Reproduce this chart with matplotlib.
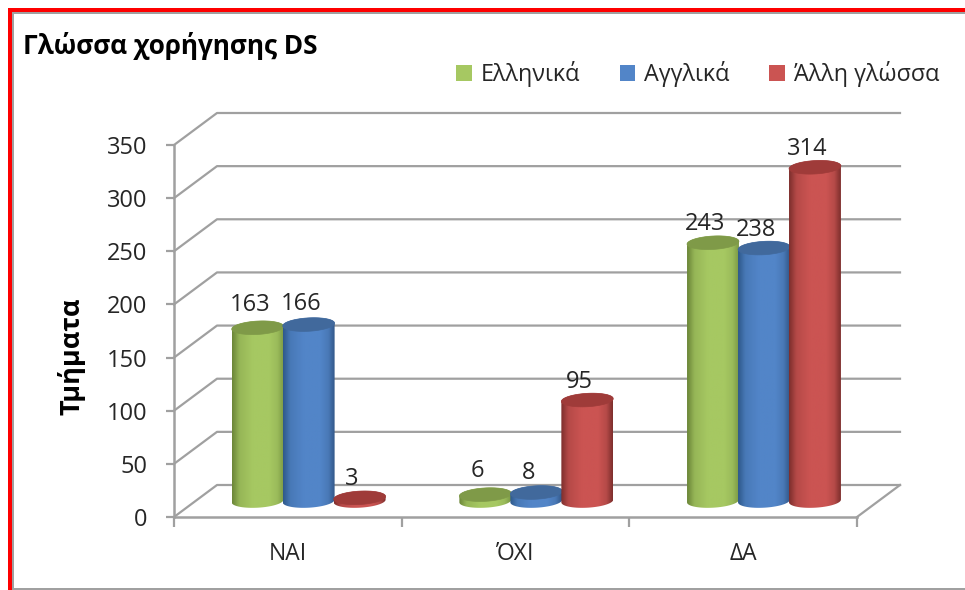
import numpy as np
import matplotlib
matplotlib.use('Agg')
import matplotlib.pyplot as plt
from matplotlib.patches import Patch, PathPatch, Polygon, Rectangle
from matplotlib.path import Path

categories = ['ΝΑΙ', 'ΌΧΙ', 'ΔΑ']
ellinika = [163, 6, 243]
agglika = [166, 8, 238]
alli = [3, 95, 314]
series_names = ['Ελληνικά', 'Αγγλικά', 'Άλλη γλώσσα']
yticks = [0, 50, 100, 150, 200, 250, 300, 350]

# edge left, centre, edge right, top of cylinder
green = ['#6c8739', '#a6c862', '#7d9a46', '#7f9a48']
blue = ['#2f5a8c', '#5285c8', '#33598a', '#41699c']
red = ['#7e2f2d', '#cb5452', '#7f302e', '#9f3b39']
palette = [green, blue, red]

plt.rcParams['font.family'] = ['Open Sans', 'DejaVu Sans']
W, H = 965, 590
GRID = '#a0a0a0'
TXT = '#262626'

fig = plt.figure(figsize=(W / 100, H / 100), dpi=100, facecolor='white')
ax = fig.add_axes([174 / W, (H - 517) / H, 683 / W, 372 / H])
ax.patch.set_alpha(0)

# depth of the fake 3d floor, in data units
dx = 43 / 683 * 3
dy = 32 / (372 / 350)
bar_w = 0.228
bar_step = 0.224
ell_b = 6.3
tilt = 1.3


def ellipse_pts(cx, cy, t):
    return np.column_stack([cx + bar_w / 2 * np.cos(t),
                            cy + ell_b * np.sin(t) + tilt * np.cos(t)])


def shade(cols, n=64):
    rgb = np.array([matplotlib.colors.to_rgb(c) for c in cols[:3]])
    u = np.linspace(0, 1, n)
    stops = [0, 0.14, 0.4, 0.72, 0.88, 1]
    mid = np.array([rgb[0], 0.72 * rgb[1] + 0.28 * rgb[0], rgb[1], rgb[1],
                    0.72 * rgb[1] + 0.28 * rgb[2], rgb[2]])
    return np.dstack([np.interp(u, stops, mid[:, i]) for i in range(3)])


def cylinder(xc, value, cols, z):
    base = dy / 2
    top = base + value
    bottom = ellipse_pts(xc, base, np.linspace(0, -np.pi, 40))
    upper = ellipse_pts(xc, top, np.linspace(np.pi, 0, 40))
    body = PathPatch(Path(np.vstack([bottom, upper, bottom[:1]])), fc='none', ec='none')
    ax.add_patch(body)
    im = ax.imshow(shade(cols), extent=[xc - bar_w / 2, xc + bar_w / 2, base - 12, top + 12],
                   aspect='auto', zorder=z, interpolation='bilinear')
    im.set_clip_path(body)
    ax.add_patch(Polygon(ellipse_pts(xc, top, np.linspace(0, 2 * np.pi, 80)),
                         fc=cols[3], ec=cols[3], lw=0.5, zorder=z + 0.1, clip_on=False))


# walls and floor
for v in yticks:
    ax.plot([0, dx, 3 + dx], [v, v + dy, v + dy], color=GRID, lw=1.6, clip_on=False, zorder=1)
ax.plot([3, 3 + dx], [0, dy], color=GRID, lw=1.6, clip_on=False, zorder=1)

label_dy = [[21, 19, 18], [22, 18, 17], [18, 17, 17]]
all_series = [ellinika, agglika, alli]
for i, cat in enumerate(categories):
    for j, vals in enumerate(all_series):
        xc = i + 0.497 + dx / 2 + (j - 1) * bar_step
        cylinder(xc, vals[i], palette[j], 3 + i * 3 + j)
        ax.text(xc - 0.033, dy / 2 + vals[i] + label_dy[i][j], str(vals[i]), ha='center', va='center',
                fontsize=17, color=TXT, zorder=20, clip_on=False)

ax.set_xlim(0, 3)
ax.set_ylim(0, 350)
ax.set_yticks(yticks)
ax.set_xticks([0, 1, 2, 3])
ax.set_xticklabels([])
ax.set_xticks([0.5, 1.5, 2.5], labels=categories, minor=True, fontsize=16.5, color=TXT)
ax.tick_params(axis='x', which='major', length=7, width=1.6, color=GRID)
ax.tick_params(axis='x', which='minor', length=0, pad=18)
ax.tick_params(axis='y', length=6, width=1.6, color=GRID, labelsize=17, labelcolor=TXT, pad=13)
for s in ['top', 'right']:
    ax.spines[s].set_visible(False)
for s in ['left', 'bottom']:
    ax.spines[s].set_color(GRID)
    ax.spines[s].set_linewidth(1.8)
ax.set_ylabel('Τμήματα', fontsize=19.5, fontweight='bold', color='black', va='center')
ax.yaxis.set_label_coords(-102 / 683, 161 / 372)

fig.text(23 / W, 1 - 46 / H, 'Γλώσσα χορήγησης DS', fontsize=18.8, fontweight='bold',
         color='black', ha='left', va='center')

handles = [Patch(fc=palette[k][1], ec='none', label=series_names[k]) for k in range(3)]
ax.legend(handles=handles, ncol=3, frameon=False, loc='center right',
          bbox_to_anchor=(951 / W, 1 - 74 / H), bbox_transform=fig.transFigure,
          fontsize=16.8, handlelength=0.65, handleheight=0.65, handletextpad=0.4,
          columnspacing=1.7, borderpad=0, labelcolor=TXT)


def frame(x0, y0, x1, y1, col):
    fig.add_artist(Rectangle((x0 / W, 1 - y1 / H), (x1 - x0) / W, (y1 - y0) / H,
                             transform=fig.transFigure, fc=col, ec='none'))


frame(7.5, 8, 11.5, 590, '#fe0000')
frame(7.5, 8, 965, 12, '#fe0000')
frame(12, 12, 14, 590, '#a0a0a0')
frame(12, 12, 965, 13.5, '#a0a0a0')
frame(12, 588, 965, 590, '#a0a0a0')

plt.savefig('out.png', dpi=100)
